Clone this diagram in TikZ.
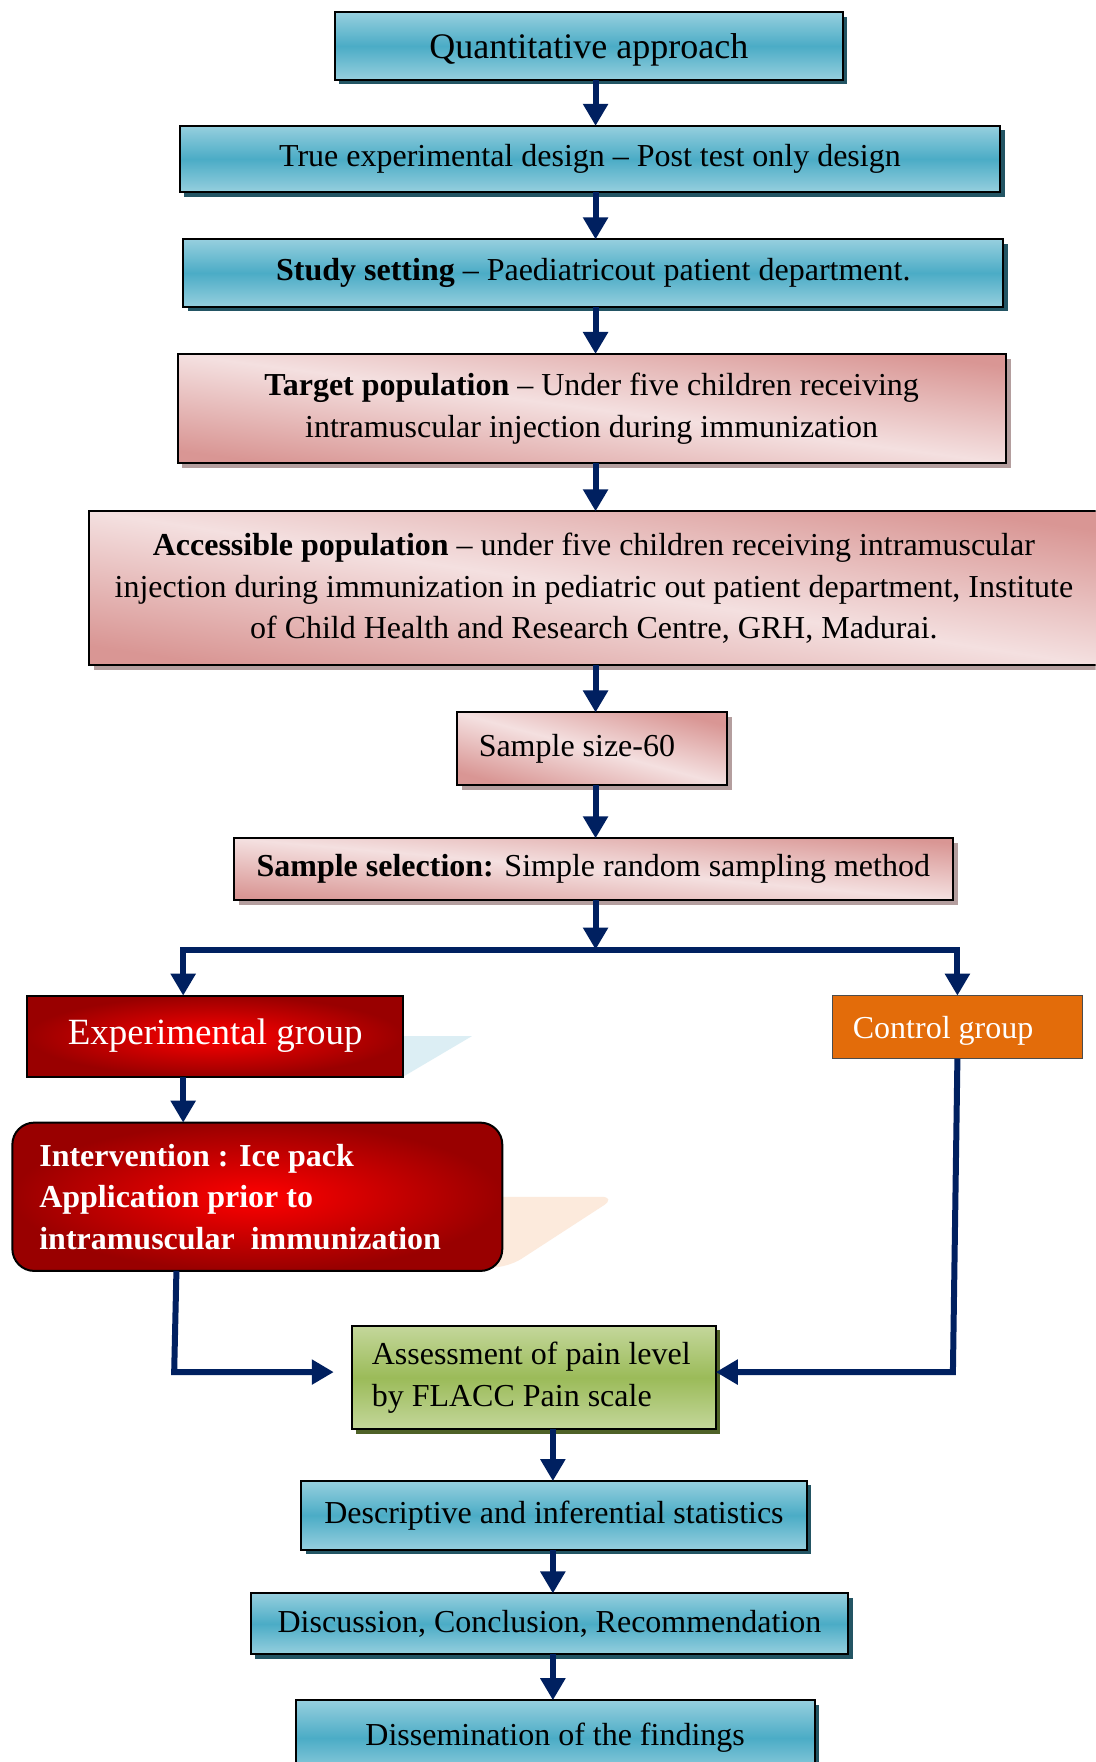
\documentclass[tikz,border=0pt]{standalone}
\usepackage{fontspec}
\setmainfont{Liberation Serif}
\usetikzlibrary{arrows.meta,shadows}

\definecolor{navy}{RGB}{0,32,96}
\definecolor{bluelight}{RGB}{150,207,222}
\definecolor{bluedark}{RGB}{75,172,198}
\definecolor{blueshadow}{RGB}{35,85,100}
\definecolor{pinkdark}{RGB}{217,150,148}
\definecolor{pinklight}{RGB}{244,224,224}
\definecolor{pinkshadow}{RGB}{180,158,158}
\definecolor{reddark}{RGB}{153,0,0}
\definecolor{redbright}{RGB}{255,0,0}
\definecolor{orangebox}{RGB}{227,108,10}
\definecolor{greenlight}{RGB}{196,215,155}
\definecolor{greendark}{RGB}{155,187,89}
\definecolor{greenshadow}{RGB}{79,98,40}
\definecolor{ghostblue}{RGB}{220,238,244}
\definecolor{ghostpeach}{RGB}{252,234,220}

% \mybox[opts]{style}{x1}{y1}{x2}{y2}{name}{text}
\newcommand\mybox[8][]{\node[#2, minimum width={(#5-#3)*0.5621pt}, minimum height={(#6-#4)*0.5621pt}, #1] (#7) at ({(#3+#5)/2},{(#4+#6)/2}) {#8};}

\tikzset{
  base/.style={draw=black, line width=1pt, inner sep=0pt, outer sep=0pt,
    font=\fontsize{16}{20.8}\selectfont, align=center},
  bluebox/.style={base, top color=bluelight, bottom color=bluelight, middle color=bluedark,
    drop shadow={shadow xshift=2.2pt, shadow yshift=-2.2pt, fill=blueshadow, opacity=1}},
  pinkbox/.style={base, top color=pinkdark, bottom color=pinkdark, middle color=pinklight,
    drop shadow={shadow xshift=2.4pt, shadow yshift=-2.4pt, fill=pinkshadow, opacity=1}},
  greenbox/.style={base, top color=greenlight, bottom color=greenlight, middle color=greendark,
    drop shadow={shadow xshift=2.2pt, shadow yshift=-2.2pt, fill=greenshadow, opacity=1}},
  redbox/.style={base, inner color=redbright, outer color=reddark, text=white},
  orangebox/.style={base, fill=orangebox, draw=black!70, line width=0.6pt, text=white},
  arr/.style={draw=navy, line width=3pt, -{Triangle[width=12pt,length=11pt]}},
  arrtwo/.style={draw=navy, line width=3pt, line join=miter,
    {Triangle[width=12pt,length=11pt]}-{Triangle[width=12pt,length=11pt]}}
}

\begin{document}
\begin{tikzpicture}[x=0.5621pt,y=-0.5621pt]
\clip (0,0) rectangle (975,1568);
\fill[white] (0,0) rectangle (975,1568);

\coordinate (ax) at (530,0);
\coordinate (bx) at (492,0);
\coordinate (gx) at (163,0);

% blue / pink boxes, top part
\mybox[font=\fontsize{18}{22}\selectfont, text depth=0pt]{bluebox}{298}{11}{750}{71}{q}{Quantitative approach}
\mybox{bluebox}{160}{112}{890}{171}{ted}{True experimental design -- Post test only design}
\mybox{bluebox}{163}{213}{893}{273}{ss}{\textbf{Study setting} -- Paediatricout patient department.}
\mybox[shading angle=-7.5]{pinkbox}{158}{315}{895}{412}{tp}{\textbf{Target population} -- Under five children receiving\\intramuscular injection during immunization}
\mybox[shading angle=-8.7]{pinkbox}{79}{455}{978}{592}{ap}{\textbf{Accessible population} -- under five children receiving intramuscular\\injection during immunization in pediatric out patient department, Institute\\of Child Health and Research Centre, GRH, Madurai.}
\mybox[shading angle=-15, align=flush left, text width=113.5pt, inner xsep=10.68pt]{pinkbox}{407}{634}{647}{699}{sz}{Sample size-60}
\mybox[shading angle=-4.9]{pinkbox}{208}{746}{848}{801}{sel}{\textbf{Sample selection:} Simple random sampling method}

% ghost shapes
\fill[ghostblue] (300,922) -- (420,922) -- (359,958) -- (300,958) -- cycle;
\fill[ghostpeach, rounded corners=8pt] (400,1065) -- (549,1065) -- (452,1128) -- (400,1128) -- cycle;

% groups
\mybox[font=\fontsize{18.5}{22}\selectfont]{redbox}{24}{886}{359}{958}{exp}{Experimental group}
\mybox[align=flush left, text width=104.55pt, inner xsep=10.12pt, text depth=0pt]{orangebox}{741}{886}{963}{942}{ctl}{Control group}
\mybox[align=flush left, text width=218.1pt, inner xsep=13.49pt, rounded corners=11pt, font=\fontsize{16}{20.8}\selectfont\bfseries]{redbox}{11}{999}{447}{1131}{int}{Intervention : Ice pack\\Application prior to\\intramuscular\ \ immunization}

% assessment and lower blue boxes
\mybox[align=flush left, text width=162pt, inner xsep=10pt]{greenbox}{313}{1180}{637}{1272}{ass}{Assessment of pain level\\by FLACC Pain scale}
\mybox{bluebox}{268}{1318}{718}{1379}{des}{Descriptive and inferential statistics}
\mybox{bluebox}{223}{1418}{755}{1472}{dis}{Discussion, Conclusion, Recommendation}
\mybox{bluebox}{263}{1513}{725}{1580}{dem}{Dissemination of the findings}

% connectors
\draw[arr] (ax |- q.south) -- (ax |- ted.north);
\draw[arr] (ax |- ted.south) -- (ax |- ss.north);
\draw[arr] (ax |- ss.south) -- (ax |- tp.north);
\draw[arr] (ax |- tp.south) -- (ax |- ap.north);
\draw[arr] (ax |- ap.south) -- (ax |- sz.north);
\draw[arr] (ax |- sz.south) -- (ax |- sel.north);

\coordinate (br) at (530,845);
\coordinate (brL) at (163,845);
\coordinate (brR) at (852,845);
\draw[arr] (ax |- sel.south) -- (br);
\draw[arrtwo] (brL |- exp.north) -- (brL) -- (brR) -- (brR |- ctl.north);

\draw[arr] (gx |- exp.south) -- (gx |- int.north);

\coordinate (iB) at (157,0);
\coordinate (iL) at (155,1221);
\coordinate (aT) at (297,1221);
\draw[arr] (iB |- int.south) -- (iL) -- (aT);

\coordinate (cB) at (852,0);
\coordinate (cL) at (848,1221);
\draw[arr] (cB |- ctl.south) -- (cL) -- (ass.east |- cL);

\draw[arr] (bx |- ass.south) -- (bx |- des.north);
\draw[arr] (bx |- des.south) -- (bx |- dis.north);
\draw[arr] (bx |- dis.south) -- (bx |- dem.north);
\end{tikzpicture}
\end{document}
